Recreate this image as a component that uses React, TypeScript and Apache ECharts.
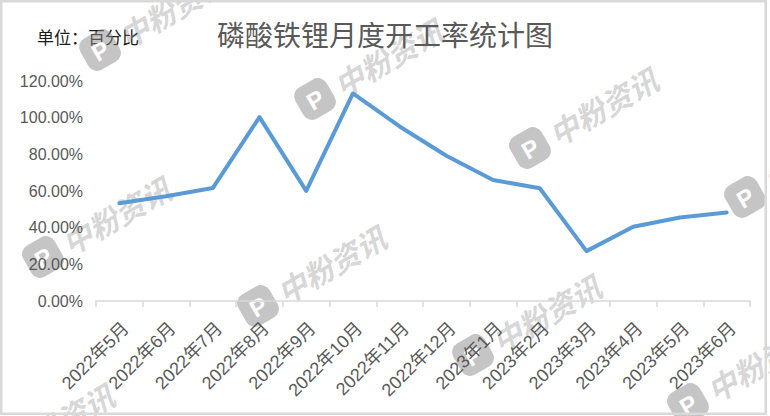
import React, { useEffect, useRef } from "react";
import * as echarts from "echarts";

const categories = [
  "2022年5月", "2022年6月", "2022年7月", "2022年8月", "2022年9月", "2022年10月", "2022年11月",
  "2022年12月", "2023年1月", "2023年2月", "2023年3月", "2023年4月", "2023年5月", "2023年6月",
];
const rateValues = [53.3, 57.1, 61.6, 100.3, 60.1, 113.2, 95.2, 79.2, 66.0, 61.5, 27.2, 40.5, 45.5, 48.3];
const yTicks = { min: 0, max: 120, interval: 20 };

const titleText = "磷酸铁锂月度开工率统计图";
const unitText = "单位：百分比";
const watermarkText = "中粉资讯";

const watermarkSpots = [
  [100, 50], [315, 99], [530, 148], [745, 197],
  [43, 257], [258, 306], [473, 355], [688, 404],
  [-14, 464],
];

export default function App() {
  const ref = useRef<HTMLDivElement>(null);

  useEffect(() => {
    document.body.style.margin = "0";
    if (!ref.current) return;
    const chart = echarts.init(ref.current, undefined, { renderer: "svg" });

    const rot = (30 * Math.PI) / 180;
    const watermarks = watermarkSpots.map(([x, y]) => ({
      type: "group",
      x,
      y,
      rotation: rot,
      z: 100,
      silent: true,
      children: [
        {
          type: "rect",
          shape: { x: -18, y: -18, width: 36, height: 36, r: 10 },
          style: { fill: "rgba(140,140,140,0.5)" },
        },
        {
          type: "text",
          x: 0,
          y: 1,
          style: {
            text: "P",
            fill: "#ffffff",
            fontSize: 24,
            fontWeight: "bold",
            fontFamily: "Liberation Sans",
            align: "center",
            verticalAlign: "middle",
          },
        },
        {
          type: "text",
          x: 24,
          y: 0,
          style: {
            text: watermarkText,
            fill: "rgba(140,140,140,0.36)",
            fontSize: 30,
            fontWeight: "bold",
            fontStyle: "italic",
            fontFamily: "Noto Sans CJK SC",
            align: "left",
            verticalAlign: "middle",
          },
        },
      ],
    }));

    chart.setOption({
      animation: false,
      backgroundColor: "#ffffff",
      title: {
        text: titleText,
        left: "center",
        top: 18,
        padding: 0,
        textStyle: {
          fontSize: 28,
          lineHeight: 32,
          color: "#595959",
          fontWeight: "normal",
          fontFamily: "Noto Sans CJK SC",
        },
      },
      grid: { left: 96, right: 20, top: 81, bottom: 115, containLabel: false },
      xAxis: {
        type: "category",
        data: categories,
        boundaryGap: true,
        axisLine: { show: true, lineStyle: { color: "#d9d9d9", width: 1.5 } },
        axisTick: { show: true, length: 6, lineStyle: { color: "#d9d9d9", width: 1.5 } },
        axisLabel: {
          interval: 0,
          rotate: 45,
          align: "right",
          verticalAlign: "top",
          margin: 18,
          color: "#595959",
          fontSize: 18,
          fontFamily: "Liberation Sans, Noto Sans CJK SC",
        },
        splitLine: { show: false },
      },
      yAxis: {
        type: "value",
        min: yTicks.min,
        max: yTicks.max,
        interval: yTicks.interval,
        axisLine: { show: false },
        axisTick: { show: false },
        splitLine: { show: false },
        axisLabel: {
          margin: 13,
          color: "#595959",
          fontSize: 16,
          fontFamily: "Liberation Sans",
          formatter: (v: number) => v.toFixed(2) + "%",
        },
      },
      series: [
        {
          type: "line",
          data: rateValues,
          showSymbol: false,
          symbol: "none",
          lineStyle: { color: "#5b9bd5", width: 4, cap: "round", join: "round" },
          itemStyle: { color: "#5b9bd5" },
          z: 3,
        },
      ],
      graphic: [
        {
          type: "rect",
          shape: { x: 1.25, y: 1.25, width: 764.5, height: 412.5 },
          style: { fill: "none", stroke: "#d9d9d9", lineWidth: 2.5 },
          silent: true,
          z: 50,
        },
        {
          type: "text",
          x: 37,
          y: 36,
          style: {
            text: unitText,
            fill: "#1a1a1a",
            fontSize: 17,
            fontFamily: "Noto Sans CJK SC",
            align: "left",
            verticalAlign: "middle",
          },
        },
        ...watermarks,
      ],
    });

    return () => chart.dispose();
  }, []);

  return <div ref={ref} style={{ width: 770, height: 416 }} />;
}
